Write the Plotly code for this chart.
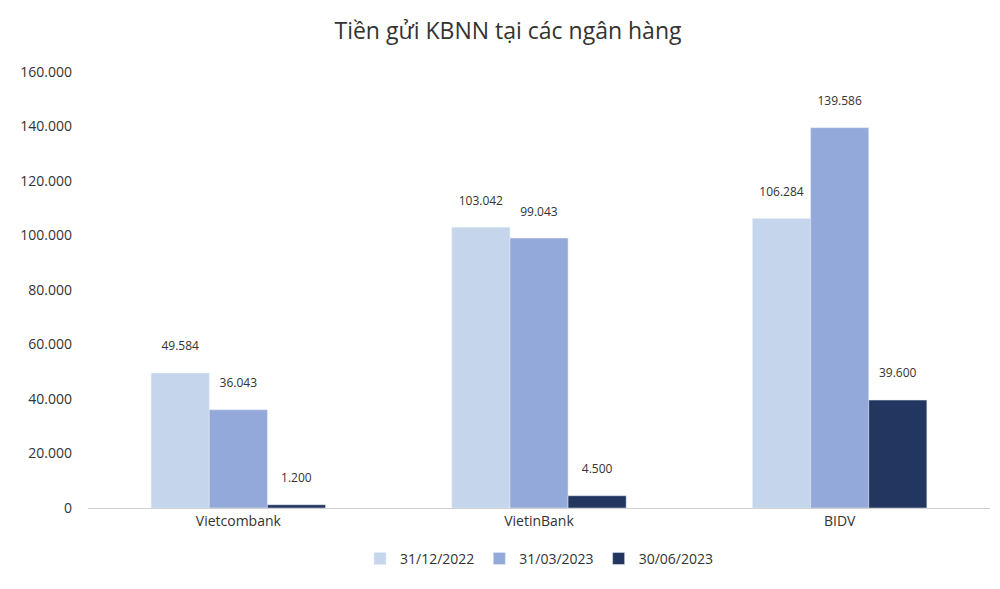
import plotly.graph_objects as go

banks = ["Vietcombank", "VietinBank", "BIDV"]
series_names = ["31/12/2022", "31/03/2023", "30/06/2023"]
dec_2022 = [49584, 103042, 106284]
mar_2023 = [36043, 99043, 139586]
jun_2023 = [1200, 4500, 39600]
y_ticks = [0, 20000, 40000, 60000, 80000, 100000, 120000, 140000, 160000]

colors = ["#c5d6ec", "#93a9d9", "#223660"]

fig = go.Figure()
for name, vals, col in zip(series_names, [dec_2022, mar_2023, jun_2023], colors):
    fig.add_trace(go.Bar(
        x=banks, y=vals, name=name, marker_color=col,
        text=[f"{v:,}".replace(",", ".") + "<br> " for v in vals],
        textposition="outside", textfont=dict(size=12, color="#333333"),
        cliponaxis=False,
    ))

fig.update_layout(
    title=dict(text="Tiền gửi KBNN tại các ngân hàng", x=0.5, y=0.975, yanchor="top",
               font=dict(size=23, color="#333333")),
    font=dict(family="Open Sans, Liberation Sans, sans-serif", size=13, color="#333333"),
    separators=",.",
    barmode="group", bargap=0.42, bargroupgap=0.0,
    plot_bgcolor="white", paper_bgcolor="white",
    margin=dict(l=77, r=18, t=64, b=89),
    legend=dict(orientation="h", x=0.5, xanchor="center", y=-0.08, yanchor="top",
                font=dict(size=14)),
    width=1000, height=589,
)
fig.update_xaxes(showline=True, linecolor="#d0d0d0", linewidth=1, ticks="",
                 tickfont=dict(size=14))
fig.update_yaxes(range=[0, 160000], tickvals=y_ticks,
                 ticktext=[f"{v:,}".replace(",", ".") for v in y_ticks],
                 showgrid=False, zeroline=False, tickfont=dict(size=14),
                 ticklabelstandoff=15)

fig.write_html("out.html")
